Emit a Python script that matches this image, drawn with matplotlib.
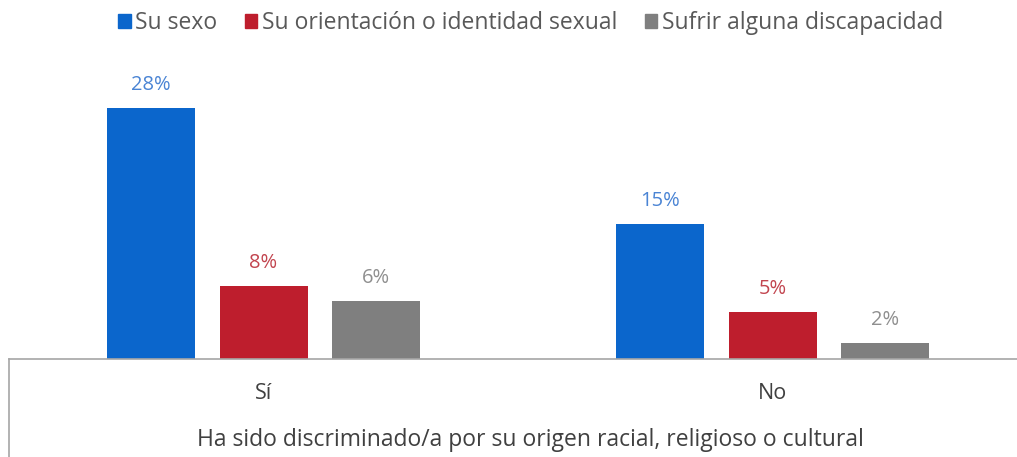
import matplotlib
matplotlib.use("Agg")
import matplotlib.pyplot as plt
from matplotlib.lines import Line2D
from matplotlib.patches import Patch
import numpy as np

categories = ["Sí", "No"]
series_names = ["Su sexo", "Su orientación o identidad sexual", "Sufrir alguna discapacidad"]
su_sexo = [27.9, 15.0]
orientacion = [8.1, 5.2]
discapacidad = [6.4, 1.8]
value_labels = [["28%", "15%"], ["8%", "5%"], ["6%", "2%"]]
axis_title = "Ha sido discriminado/a por su origen racial, religioso o cultural"

bar_colors = ["#0B66CC", "#BE1E2D", "#7F7F7F"]
label_colors = ["#4A84D4", "#C2454F", "#8F8F8F"]

plt.rcParams['font.family'] = ['Open Sans', 'DejaVu Sans']

W, H = 1017, 457
fig = plt.figure(figsize=(W / 100, H / 100), dpi=100)
ax = fig.add_axes([9 / W, (H - 359) / H, 1 - 9 / W, (359 - 89) / H])

series = [su_sexo, orientacion, discapacidad]
x = np.arange(len(categories))
step = 112.5 / 509
width = 88 / 509
for i, (vals, col, lcol) in enumerate(zip(series, bar_colors, label_colors)):
    pos = x + (i - 1) * step
    ax.bar(pos, vals, width=width, color=col, label=series_names[i])
    for p, v, t in zip(pos, vals, value_labels[i]):
        ax.annotate(t, (p, v), xytext=(0, 16.5), textcoords="offset points",
                    ha="center", va="center", color=lcol, fontsize=14.5)

ax.set_xlim(-0.5, 1.48)
ax.set_ylim(0, 30)
for s in ["top", "right", "left"]:
    ax.spines[s].set_visible(False)
ax.spines["bottom"].set_color("#A6A6A6")
ax.spines["bottom"].set_linewidth(1.2)
ax.set_yticks([])
ax.set_xticks(x)
ax.set_xticklabels(categories, fontsize=15.5, color="#404040")
ax.tick_params(axis="x", length=0, pad=17)

# left border of category box
fig.add_artist(Line2D([9 / W, 9 / W], [0, (H - 359) / H], color="#A6A6A6", lw=1.2))

fig.text(0.5217, (H - 440) / H, axis_title, ha="center", va="center", fontsize=16.5, color="#404040")

handles = [Patch(color=c) for c in bar_colors]
fig.legend(handles, series_names, loc="center", bbox_to_anchor=(0.5217, (H - 23) / H),
           ncol=3, frameon=False, fontsize=16.5, handlelength=0.55, handleheight=0.55,
           handletextpad=0.2, columnspacing=1.2, labelcolor="#595959")

fig.savefig("out.png", dpi=100)
